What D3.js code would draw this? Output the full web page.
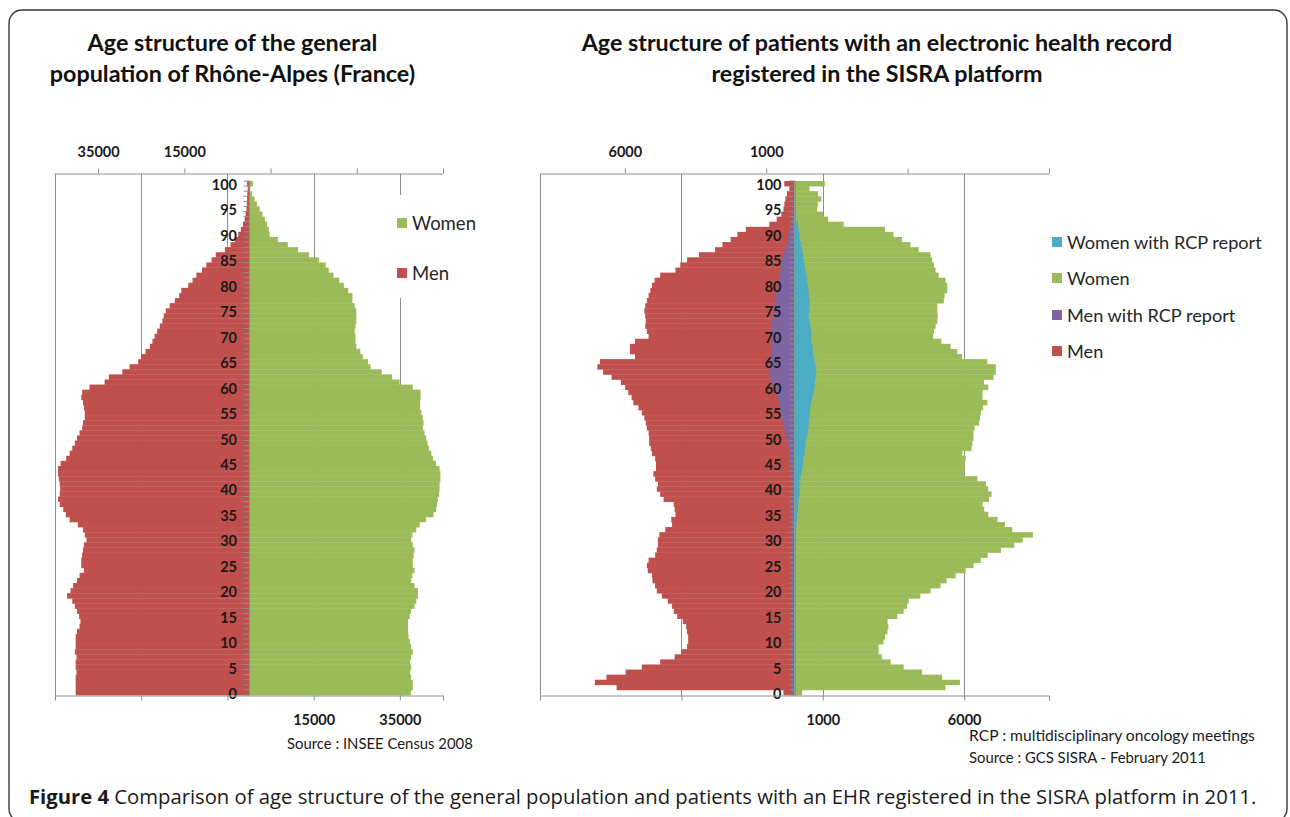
<!DOCTYPE html>
<html><head><meta charset="utf-8">
<script src="https://cdn.jsdelivr.net/npm/d3@7"></script>
<style>body{margin:0;background:#fff;} svg{display:block;}</style>
</head><body>
<svg id="c" width="1290" height="817"></svg>
<script>
// ---------------- DATA ----------------
const ages = d3.range(0, 101); // age categories 0..100
const ageTickLabels = [0,5,10,15,20,25,30,35,40,45,50,55,60,65,70,75,80,85,90,95,100];

// General population of Rhône-Alpes (INSEE 2008), by single year of age 0..100
const popMen = [40200,40200,40200,40200,40000,40200,40200,40000,40400,40200,
  40200,40200,39900,39300,39100,39400,39900,40400,41000,42200,
  41400,40800,39900,39300,38300,38900,38900,38700,38500,38300,
  37700,38100,38500,39700,41600,42500,43100,43900,44300,43900,
  43800,43900,44100,44300,44300,43700,42400,41600,41000,40400,
  39900,39300,38700,38500,38100,38100,38300,38500,38900,38700,
  37000,33500,32500,29400,27700,25700,25000,24000,23000,22400,
  21900,21300,20700,20100,19800,19300,18400,17200,16200,15700,
  14100,13100,12200,10900,9900,8700,7700,5600,4300,3300,
  2500,1900,1400,1000,800,600,500,450,400,300,450];
const popWomen = [37600,38000,38000,37600,37400,37600,37400,37600,38000,37600,
  37300,37000,36900,36900,36900,37300,37600,38400,38800,39200,
  39200,38400,37600,37900,38400,38000,38000,38200,38400,38000,
  37600,37900,38800,39600,41100,42800,43400,43600,43800,44100,
  44200,44200,44400,44400,44200,43400,42700,42300,41700,41400,
  41100,40700,40300,40500,40300,40000,39700,39700,39800,39800,
  38000,34900,33200,30800,28200,27600,26400,25800,24900,24700,
  24700,24500,24700,24900,24900,24900,24500,24000,24000,23000,
  22000,20900,19600,18500,17800,16200,13900,11400,9000,6700,
  4800,4600,4200,3700,3100,2500,1850,1300,700,300,900];

// Patients with an EHR in the SISRA platform (February 2011), ages 0..100
const sisraMen = [390,6290,7060,6650,5970,5400,4750,4240,4000,3800,
  3760,3760,3800,3830,3950,4150,4270,4330,4480,4690,
  4870,4930,5020,5040,5190,5220,5160,4930,4870,4830,
  4830,4780,4570,4330,4360,4210,4240,4270,4630,4750,
  4870,4830,4930,4990,4900,4900,4930,5040,5080,5140,
  5140,5160,5220,5260,5310,5400,5520,5700,5760,5880,
  5990,6140,6470,6770,6970,6880,5640,5820,5820,5640,
  5160,5220,5280,5260,5280,5310,5280,5220,5160,5100,
  5040,4950,4750,4210,4040,3800,3380,2810,2550,2260,
  2020,1720,890,630,470,390,360,320,270,180,360];
const sisraMenRCP = [90,90,90,90,90,90,90,90,90,90,
  90,90,90,90,90,90,90,90,90,90,
  90,90,90,90,90,90,90,90,90,90,
  90,90,100,100,100,100,100,110,110,120,
  120,120,130,130,140,150,150,180,200,240,
  270,320,360,390,440,470,510,560,590,650,
  710,800,870,910,890,870,840,820,810,800,
  780,800,800,800,770,750,710,680,650,630,
  590,560,530,500,470,440,390,320,270,240,
  200,180,120,80,70,60,50,50,40,30,30];
const sisraWomen = [270,5340,5850,5220,4510,3860,3400,3090,2970,2970,
  3150,3200,3290,3320,3290,3640,3860,3980,4040,4450,
  4810,5160,5380,5700,6050,6330,6590,6830,7300,7770,
  8070,8430,7700,7440,7180,6850,6710,6650,6880,6970,
  6850,6770,6470,5990,6020,6020,6050,5940,6260,6290,
  6330,6330,6370,6530,6560,6590,6670,6820,6650,6650,
  6850,6700,7040,7120,7120,6820,5930,5760,5520,5190,
  4900,4930,4990,5050,5070,5050,5050,5280,5310,5400,
  5400,5340,5100,4990,4930,4870,4810,4390,4100,3800,
  3500,3200,1740,1190,1010,800,830,950,830,530,1070];
const sisraWomenRCP = [30,30,30,30,30,30,30,30,30,30,
  30,30,30,30,30,30,30,30,40,40,
  40,40,40,40,40,50,50,50,50,50,
  60,60,60,70,80,100,120,130,150,180,
  180,200,210,240,270,300,320,360,370,390,
  420,470,490,510,530,530,560,590,630,680,
  710,720,750,770,750,710,680,650,630,590,
  590,580,560,530,510,530,530,530,510,490,
  470,440,420,390,360,320,300,270,240,200,
  180,140,120,60,40,30,20,20,10,10,10];

const popTopTicks = [-35000,-15000,5000,25000,45000];
const popBottomTicks = [-45000,-25000,-5000,15000,35000,45000];
const sisraTopTicks = [-6000,-1000,4000,9000];
const sisraBottomTicks = [-9000,-4000,1000,6000,9000];

const titlePop = ["Age structure of the general", "population of Rhône-Alpes (France)"];
const titleSisra = ["Age structure of patients with an electronic health record", "registered in the SISRA platform"];
const legendPop = [["Women","#9BBB59"],["Men","#C0504D"]];
const legendSisra = [["Women with RCP report","#4BACC6"],["Women","#9BBB59"],["Men with RCP report","#8064A2"],["Men","#C0504D"]];
const notesPop = ["Source : INSEE Census 2008"];
const notesSisra = ["RCP : multidisciplinary oncology meetings", "Source : GCS SISRA - February 2011"];
const captionBold = "Figure 4";
const captionText = " Comparison of age structure of the general population and patients with an EHR registered in the SISRA platform in 2011.";

// ---------------- DRAWING ----------------
const svg = d3.select("#c");
const FONT = "Lato, 'Open Sans', sans-serif";
const GRID = "#8E8E8E";
const RED = "#C0504D", GREEN = "#9BBB59", PURPLE = "#8064A2", BLUE = "#4BACC6";

function fitWidth(sel, target) {
  const w = sel.node().getComputedTextLength();
  const fs = parseFloat(sel.attr("font-size"));
  const nfs = fs * target / w;
  sel.attr("font-size", nfs);
  return nfs;
}

// outer rounded border
svg.append("rect").attr("x", 9).attr("y", 10).attr("width", 1278).attr("height", 812)
  .attr("rx", 13).attr("fill", "none").attr("stroke", "#3a3a3a").attr("stroke-width", 1.4);

function pyramid(cfg) {
  const g = svg.append("g");
  const x = d3.scaleLinear().domain(cfg.domain).range(cfg.xRange);
  const y = d3.scaleBand().domain(ages).range([695, 181]).padding(0);
  const yTop = 173.5, yBot = 695.5;
  const x0 = x(0);

  // vertical gridlines from bottom-axis ticks
  g.selectAll("line.grid").data(cfg.bottomTicks.slice(0, -1)).join("line")
    .attr("x1", d => Math.round(x(d)) + 0.5).attr("x2", d => Math.round(x(d)) + 0.5)
    .attr("y1", yTop).attr("y2", yBot).attr("stroke", GRID).attr("stroke-width", 1);

  // legend background box (covers gridline)
  if (cfg.legendBox) {
    g.append("rect").attr("x", cfg.legendBox[0]).attr("y", cfg.legendBox[1])
      .attr("width", cfg.legendBox[2]).attr("height", cfg.legendBox[3]).attr("fill", "#fff");
  }

  // bars
  cfg.series.forEach(s => {
    g.append("g").selectAll("rect").data(s.values).join("rect")
      .attr("x", (v) => Math.min(x(s.sign * v), x0))
      .attr("width", (v) => Math.abs(x(s.sign * v) - x0))
      .attr("y", (v, i) => y(ages[i]))
      .attr("height", y.bandwidth() + 0.35)
      .attr("fill", s.color);
  });

  // central vertical axis with a tick per age band
  const cx = Math.round(x0) + 0.5;
  g.append("line").attr("x1", cx).attr("x2", cx).attr("y1", 181).attr("y2", yBot)
    .attr("stroke", GRID);
  const bounds = ages.map(a => y(a)).concat([y(0) + y.bandwidth()]);
  g.selectAll("line.yt").data(bounds).join("line")
    .attr("x1", cx - 6).attr("x2", cx).attr("y1", d => d).attr("y2", d => d)
    .attr("stroke", GRID).attr("stroke-width", 1);

  // age labels
  g.selectAll("text.age").data(ageTickLabels).join("text")
    .attr("x", x0 - cfg.ageOffset).attr("y", d => y(d) + y.bandwidth() / 2 + 1)
    .attr("text-anchor", "end").attr("dominant-baseline", "central")
    .attr("font-family", FONT).attr("font-weight", 700).attr("font-size", 14.5)
    .attr("fill", "#1a1a1a").text(d => d);

  // top axis (labels only on negative side, as absolute values)
  const topAxis = d3.axisTop(x).tickValues(cfg.topTicks).tickSize(5).tickSizeOuter(0)
    .tickPadding(12).tickFormat(d => d < 0 ? String(Math.abs(d)) : "");
  const ta = g.append("g").attr("transform", `translate(0,${yTop})`).call(topAxis);
  // bottom axis (labels only on positive side, excluding the end tick)
  const botAxis = d3.axisBottom(x).tickValues(cfg.bottomTicks).tickSize(5).tickSizeOuter(0)
    .tickPadding(14).tickFormat(d => (d > 0 && d < cfg.domain[1]) ? String(d) : "");
  const ba = g.append("g").attr("transform", `translate(0,${yBot})`).call(botAxis);
  [ta, ba].forEach(a => {
    a.select(".domain").attr("stroke", GRID).attr("d", `M${x(cfg.domain[0])},0.5H${x(cfg.domain[1])}`);
    a.selectAll(".tick line").attr("stroke", GRID);
    a.selectAll(".tick text").attr("font-family", FONT).attr("font-weight", 700)
      .attr("font-size", 14.5).attr("fill", "#1a1a1a");
  });

  // titles
  const tl = cfg.title.map((t, i) => g.append("text").attr("x", cfg.titleX).attr("y", 51 + i * 31)
    .attr("text-anchor", "middle").attr("font-family", FONT).attr("font-weight", 700)
    .attr("font-size", 20).attr("fill", "#111").text(t));
  const fsT = fitWidth(tl[0], cfg.titleW);
  tl[1].attr("font-size", fsT);

  // legend
  const lg = g.append("g");
  let lfs = null;
  cfg.legend.forEach((L, i) => {
    const yy = cfg.legendY[i];
    lg.append("rect").attr("x", cfg.legendX).attr("y", yy - 5).attr("width", 10).attr("height", 10)
      .attr("fill", L[1]);
    const t = lg.append("text").attr("x", cfg.legendX + 15).attr("y", yy)
      .attr("dominant-baseline", "central").attr("font-family", FONT).attr("font-size", 16)
      .attr("fill", "#262626").text(L[0]);
    if (i === cfg.legendFitIdx) lfs = fitWidth(t, cfg.legendFitW);
  });
  lg.selectAll("text").attr("font-size", lfs);

  // notes
  cfg.notes.forEach((n, i) => {
    const t = g.append("text").attr("x", cfg.notesX).attr("y", cfg.notesY[i])
      .attr("dominant-baseline", "central").attr("font-family", FONT).attr("font-size", 13)
      .attr("fill", "#1a1a1a").text(n);
    fitWidth(t, cfg.notesW[i]);
  });
}

pyramid({
  domain: [-45000, 45000], xRange: [55, 443],
  topTicks: popTopTicks, bottomTicks: popBottomTicks,
  series: [
    { values: popMen, sign: -1, color: RED },
    { values: popWomen, sign: 1, color: GREEN }
  ],
  ageOffset: 12,
  legendBox: [390, 195, 92, 103],
  title: titlePop, titleX: 232.5, titleW: 290,
  legend: legendPop, legendX: 397, legendY: [223, 273], legendFitIdx: 0, legendFitW: 64,
  notes: notesPop, notesX: 287, notesY: [743], notesW: [186]
});

pyramid({
  domain: [-9000, 9000], xRange: [540, 1049],
  topTicks: sisraTopTicks, bottomTicks: sisraBottomTicks,
  series: [
    { values: sisraMen, sign: -1, color: RED },
    { values: sisraMenRCP, sign: -1, color: PURPLE },
    { values: sisraWomen, sign: 1, color: GREEN },
    { values: sisraWomenRCP, sign: 1, color: BLUE }
  ],
  ageOffset: 13,
  legendBox: null,
  title: titleSisra, titleX: 877, titleW: 591,
  legend: legendSisra, legendX: 1052, legendY: [242, 278, 315, 351], legendFitIdx: 0, legendFitW: 195,
  notes: notesSisra, notesX: 969, notesY: [735, 757], notesW: [286, 237]
});

// caption
const cap = svg.append("text").attr("x", 29).attr("y", 804)
  .attr("font-family", "'Open Sans', 'Noto Sans', sans-serif").attr("font-size", 18).attr("fill", "#1a1a1a");
cap.append("tspan").attr("font-weight", 700).text(captionBold);
cap.append("tspan").text(captionText);
fitWidth(cap, 1228);
</script>
</body></html>
